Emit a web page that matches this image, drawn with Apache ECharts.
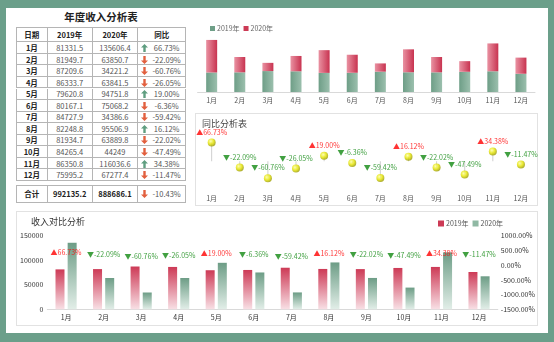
<!DOCTYPE html>
<html>
<head>
<meta charset="utf-8">
<script src="https://cdn.jsdelivr.net/npm/echarts@6.0.0/dist/echarts.min.js"></script>
<style>
  html, body { margin: 0; padding: 0; }
  body { width: 554px; height: 342px; overflow: hidden; position: relative; background: #6b9f8a;
         font-family: "Noto Sans CJK SC", "Noto Sans", sans-serif; }
  #panel { position: absolute; left: 6px; top: 8px; width: 542px; height: 325px; background: #fff; }
  .box { position: absolute; border: 1px solid #e2e2e2; box-sizing: border-box; }
  #tbl { position: absolute; left: 0; top: 0; width: 554px; height: 342px; }
  .cell { position: absolute; box-sizing: border-box; border-right: 1px solid #b5b5b5; border-bottom: 1px solid #b5b5b5;
          display: flex; align-items: center; justify-content: center; font-size: 7.5px; color: #555; white-space: nowrap; }
  .hd { font-weight: bold; color: #222; }
  .mo { font-weight: bold; color: #222; }
  #title { position: absolute; left: 16px; width: 170px; top: 9px; text-align: center; font-size: 10.5px; font-weight: bold; color: #222; }
  #chart { position: absolute; left: 0; top: 0; width: 554px; height: 342px; }
</style>
</head>
<body>
<div id="panel"></div>
<div class="box" style="left:195px; top:113px; width:343px; height:93px;"></div>
<div class="box" style="left:16px; top:211px; width:522px; height:115px;"></div>
<div id="title">年度收入分析表</div>
<div id="tbl"></div>
<div id="chart"></div>
<script>
// ---- data ----
const months = ['1月','2月','3月','4月','5月','6月','7月','8月','9月','10月','11月','12月'];
const income2019 = [81331.5, 81949.7, 87209.6, 86333.7, 79620.8, 80167.1, 84727.9, 82248.8, 81934.7, 84265.4, 86350.8, 75995.2];
const income2020 = [135606.4, 63850.7, 34221.2, 63841.5, 94751.8, 75068.2, 34386.6, 95506.9, 63889.8, 44249, 116036.6, 67277.4];
const yoyRate = [66.73, -22.09, -60.76, -26.05, 19.00, -6.36, -59.42, 16.12, -22.02, -47.49, 34.38, -11.47];
const tableHeader = ['日期', '2019年', '2020年', '同比'];
const totalRow = ['合计', '992135.2', '888686.1', -10.43];
const seriesNames = ['2019年', '2020年'];
const rightTicks = [-1500, -1000, -500, 0, 500, 1000];

// ---- table (HTML) ----
const colX = [16, 47.7, 92.7, 138.3, 186];
const headTop = 26.7, headH = 15.6, rowH = 11.55;
const tbl = document.getElementById('tbl');
function arrow(up) {
  if (up) return '<svg width="7" height="8" viewBox="0 0 7 8"><polygon points="3.5,0 7,3.6 4.7,3.6 4.7,8 2.3,8 2.3,3.6 0,3.6" fill="#5f9e80"/></svg>';
  return '<svg width="7" height="8" viewBox="0 0 7 8"><polygon points="3.5,8 7,4.4 4.7,4.4 4.7,0 2.3,0 2.3,4.4 0,4.4" fill="#e2603f"/></svg>';
}
function cell(c, y, h, html, cls, extraStyle) {
  const d = document.createElement('div');
  d.className = 'cell ' + (cls || '');
  d.style.left = colX[c] + 'px';
  d.style.top = y + 'px';
  d.style.width = (colX[c + 1] - colX[c]) + 'px';
  d.style.height = h + 'px';
  if (c === 0) d.style.borderLeft = '1px solid #b5b5b5';
  if (extraStyle) d.setAttribute('style', d.getAttribute('style') + ';' + extraStyle);
  d.innerHTML = html;
  tbl.appendChild(d);
}
function rateHtml(v) {
  return '<span style="position:absolute;left:3px;top:50%;margin-top:-4.5px;">' + arrow(v >= 0) + '</span>' +
         '<span style="position:absolute;left:10px;right:0;text-align:center;">' + v.toFixed(2) + '%</span>';
}
tableHeader.forEach((h, i) => cell(i, headTop, headH, h, 'hd', 'border-top:1px solid #b5b5b5'));
months.forEach((m, r) => {
  const y = headTop + headH + r * rowH;
  cell(0, y, rowH, m, 'mo');
  cell(1, y, rowH, String(income2019[r]));
  cell(2, y, rowH, String(income2020[r]));
  cell(3, y, rowH, rateHtml(yoyRate[r]));
});
const totTop = 185, totH = 17.5;
cell(0, totTop, totH, totalRow[0], 'mo', 'border-top:1px solid #b5b5b5');
cell(1, totTop, totH, totalRow[1], 'mo', 'border-top:1px solid #b5b5b5');
cell(2, totTop, totH, totalRow[2], 'mo', 'border-top:1px solid #b5b5b5');
cell(3, totTop, totH, rateHtml(totalRow[3]), '', 'border-top:1px solid #b5b5b5');

// ---- charts ----
const G = echarts.graphic;
const red = '#cc3a55', green = '#6f9f88';
const redH = new G.LinearGradient(0, 0, 1, 0, [{offset: 0, color: '#e992a2'}, {offset: 1, color: '#c83350'}]);
const greenH = new G.LinearGradient(0, 0, 1, 0, [{offset: 0, color: '#6e9e87'}, {offset: 1, color: '#9bbfad'}]);
const redV = new G.LinearGradient(0, 0, 0, 1, [{offset: 0, color: '#cd3a56'}, {offset: 1, color: '#f8e0e5'}]);
const greenV = new G.LinearGradient(0, 0, 0, 1, [{offset: 0, color: '#6d9d86'}, {offset: 1, color: '#e2eee8'}]);
const ball = new G.RadialGradient(0.38, 0.35, 0.65, [{offset: 0, color: '#ffffa0'}, {offset: 0.55, color: '#e4e400'}, {offset: 1, color: '#9c9c00'}]);

function rateLabel(p) {
  const v = p.value;
  return v >= 0 ? '{u|▲' + v.toFixed(2) + '%}' : '{d|▼' + v.toFixed(2) + '%}';
}
const rateRich = { u: { color: '#ff0000', fontSize: 7 }, d: { color: '#118811', fontSize: 7 } };
const axisFont = { fontSize: 7, color: '#555', fontFamily: 'Noto Sans CJK SC' };

const chart = echarts.init(document.getElementById('chart'), null, { renderer: 'canvas' });
chart.setOption({
  animation: false,
  textStyle: { fontFamily: 'Noto Sans CJK SC' },
  title: [
    { text: '同比分析表', left: 197, top: 114, textStyle: { fontSize: 9, fontWeight: 'normal', color: '#444' } },
    { text: '收入对比分析', left: 26, top: 212, textStyle: { fontSize: 9, fontWeight: 'normal', color: '#333' } }
  ],
  legend: [
    { left: 205, top: 20, icon: 'rect', itemWidth: 5, itemHeight: 5, itemGap: 4,
      textStyle: { fontSize: 7, color: '#666', padding: [0, 0, 0, -3] },
      data: [{ name: seriesNames[0], itemStyle: { color: green } }, { name: seriesNames[1], itemStyle: { color: red } }] },
    { left: 433, top: 215, icon: 'rect', itemWidth: 6, itemHeight: 6, itemGap: 4,
      textStyle: { fontSize: 7, color: '#555', padding: [0, 0, 0, -3] },
      data: [{ name: seriesNames[0], itemStyle: { color: red } }, { name: seriesNames[1], itemStyle: { color: '#8fb8a3' } }] }
  ],
  grid: [
    { left: 197.6, top: 32, width: 337.4, height: 60 },
    { left: 197.6, top: 133, width: 337.4, height: 56.4 },
    { left: 47.3, top: 235.7, width: 450.5, height: 73.6 }
  ],
  xAxis: [
    { gridIndex: 0, type: 'category', data: months, axisTick: { show: false },
      axisLine: { lineStyle: { color: '#d9d9d9' } }, axisLabel: Object.assign({ margin: 5 }, axisFont) },
    { gridIndex: 1, type: 'category', data: months, axisTick: { show: false },
      axisLine: { show: false, onZero: false }, axisLabel: Object.assign({ margin: 5 }, axisFont) },
    { gridIndex: 2, type: 'category', data: months, axisTick: { show: false },
      axisLine: { lineStyle: { color: '#d9d9d9' } }, axisLabel: Object.assign({ margin: 5 }, axisFont, { color: '#333' }) }
  ],
  yAxis: [
    { gridIndex: 0, type: 'value', min: 0, max: 250000, show: false, splitLine: { show: false } },
    { gridIndex: 1, type: 'value', min: -100, max: 100, show: false, splitLine: { show: false } },
    { gridIndex: 2, type: 'value', min: 0, max: 150000, interval: 50000, splitLine: { show: false },
      axisLine: { show: false }, axisTick: { show: false },
      axisLabel: Object.assign({ margin: 4, formatter: v => String(v) }, axisFont, { color: '#333' }) },
    { gridIndex: 2, type: 'value', min: rightTicks[0], max: rightTicks[rightTicks.length - 1], interval: 500, splitLine: { show: false },
      axisLine: { show: false }, axisTick: { show: false },
      axisLabel: Object.assign({ margin: 3, formatter: v => v.toFixed(2) + '%' }, axisFont, { color: '#333' }) }
  ],
  series: [
    { name: seriesNames[0], type: 'bar', xAxisIndex: 0, yAxisIndex: 0, stack: 'top', barWidth: 11,
      itemStyle: { color: greenH }, data: income2019 },
    { name: seriesNames[1], type: 'bar', xAxisIndex: 0, yAxisIndex: 0, stack: 'top', barWidth: 11,
      itemStyle: { color: redH }, data: income2020 },
    { name: 'drop', type: 'bar', xAxisIndex: 1, yAxisIndex: 1, barWidth: 1, silent: true,
      itemStyle: { color: '#cfcfcf' }, data: yoyRate },
    { name: 'yoy', type: 'scatter', xAxisIndex: 1, yAxisIndex: 1, symbolSize: 8, z: 5,
      itemStyle: { color: ball }, data: yoyRate,
      label: { show: true, position: 'top', distance: 3, formatter: rateLabel, rich: rateRich } },
    { name: seriesNames[0], type: 'bar', xAxisIndex: 2, yAxisIndex: 2, barWidth: 9, barGap: '35%',
      itemStyle: { color: redV }, data: income2019 },
    { name: seriesNames[1], type: 'bar', xAxisIndex: 2, yAxisIndex: 2, barWidth: 9, barGap: '35%',
      itemStyle: { color: greenV }, data: income2020 },
    { name: 'yoy2', type: 'scatter', xAxisIndex: 2, yAxisIndex: 3, symbolSize: 1, z: 5,
      itemStyle: { color: 'rgba(0,0,0,0)' }, data: yoyRate,
      label: { show: true, position: 'top', distance: 7, formatter: rateLabel, rich: rateRich } }
  ]
});
</script>
</body>
</html>
